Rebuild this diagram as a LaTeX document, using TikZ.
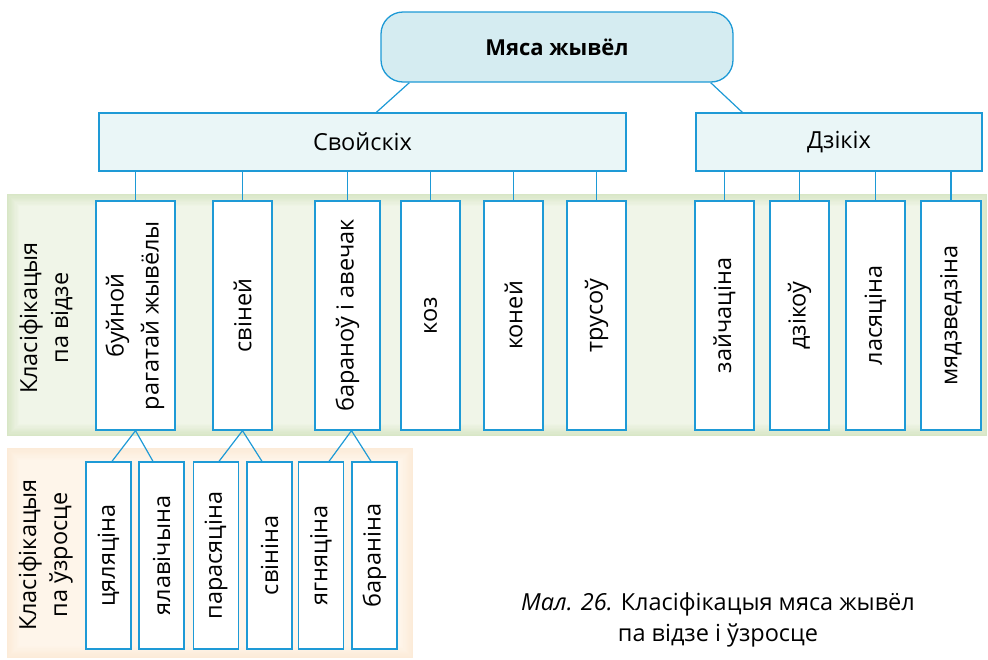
\documentclass[tikz,border=0pt]{standalone}
\usepackage{fontspec}
\setmainfont{Open Sans}
\usetikzlibrary{calc}
\definecolor{bl}{HTML}{1E9AD6}
\definecolor{topfill}{HTML}{D5ECF1}
\definecolor{midfill}{HTML}{EAF6F7}
\definecolor{gedge}{HTML}{D8E6C6}
\definecolor{gcenter}{HTML}{F0F5E8}
\definecolor{oedge}{HTML}{FCEBD8}
\definecolor{ocenter}{HTML}{FEF5EA}
\tikzset{
  box/.style={draw=bl, line width=1.3pt, inner sep=0pt, align=center},
  topbox/.style={box, fill=topfill, rounded corners=22pt, minimum width=352pt, minimum height=70pt, font=\fontsize{22}{27}\selectfont\bfseries},
  midbox/.style={box, fill=midfill, minimum height=58pt},
  vbox/.style={box, fill=white, minimum height=229pt, minimum width=#1},
  sbox/.style={box, fill=white, minimum height=187pt, minimum width=45pt},
  conn/.style={draw=bl, line width=1.2pt},
  lbl/.style={inner sep=0pt}
}
\newcommand{\vt}[1]{\rotatebox{90}{#1}}
\newcommand{\vtt}[3][3pt]{\rotatebox{90}{\begin{tabular}{@{}c@{}}#2\\[#1]#3\end{tabular}}}
\begin{document}
\begin{tikzpicture}[x=1pt,y=-1pt,font=\fontsize{23.5}{28}\selectfont]
\useasboundingbox (0,0) rectangle (988,659);
% bands
\foreach \i in {0,...,10}{
  \pgfmathtruncatemacro\p{\i*10}
  \fill[gcenter!\p!gedge] ({7+\i*1.2},{194+\i*1.2}) rectangle ({987-\i*1.2},{436-\i*1.2});
  \fill[ocenter!\p!oedge] ({7+\i*1.2},{448+\i*1.2}) rectangle ({413-\i*1.2},{658-\i*1.2});
}
% top
\node[topbox] (top) at (557,47) {Мяса жывёл};
\node[midbox, minimum width=527pt] (svo) at (362.5,142) {Свойскіх};
\node[midbox, minimum width=286pt] (dzi) at (839,142) {Дзікіх};
\draw[conn] ($(top.south west)+(29,0)$) -- ($(svo.north west)+(278,0)$);
\draw[conn] ($(top.south east)+(-23,0)$) -- ($(dzi.north west)+(47,0)$);
% vertical boxes
\node[vbox=79pt] (v1) at (135.5,315.5) {\vtt[7pt]{буйной}{рагатай жывёлы}};
\node[vbox=59pt] (v2) at (242.5,315.5) {\vt{свіней}};
\node[vbox=65pt] (v3) at (347.5,315.5) {\vt{бараноў і авечак}};
\node[vbox=59pt] (v4) at (430.5,315.5) {\vt{коз}};
\node[vbox=59pt] (v5) at (513.5,315.5) {\vt{коней}};
\node[vbox=59pt] (v6) at (596.5,315.5) {\vt{трусоў}};
\node[vbox=59pt] (w1) at (724.5,315.5) {\vt{зайчаціна}};
\node[vbox=59pt] (w2) at (799.5,315.5) {\vt{дзікоў}};
\node[vbox=59pt] (w3) at (875.5,315.5) {\vt{ласяціна}};
\node[vbox=60pt] (w4) at (951,315.5) {\vt{мядзведзіна}};
\foreach \n in {v1,v2,v3,v4,v5,v6}{\draw[conn] (\n.north) -- (\n.north |- svo.south);}
\foreach \n in {w1,w2,w3,w4}{\draw[conn] (\n.north) -- (\n.north |- dzi.south);}
% small boxes
\node[sbox] (b1) at (108.5,555.5) {\vt{цяляціна}};
\node[sbox] (b2) at (161.5,555.5) {\vt{ялавічына}};
\node[sbox] (b3) at (216,555.5) {\vt{парасяціна}};
\node[sbox] (b4) at (269.5,555.5) {\vt{свініна}};
\node[sbox] (b5) at (321,555.5) {\vt{ягняціна}};
\node[sbox] (b6) at (374.5,555.5) {\vt{бараніна}};
\draw[conn] ($(b1.north)+(3.5,0)$) -- (v1.south) -- ($(b2.north)+(-8.5,0)$);
\draw[conn] ($(b3.north)+(3,0)$) -- (v2.south) -- ($(b4.north)+(-7.5,0)$);
\draw[conn] ($(b5.north)+(8,0)$) -- ($(v3.south)+(4,0)$) -- ($(b6.north)+(-3.5,0)$);
% side labels
\node[lbl] (l1) at (47,318) {\vtt{Класіфікацыя}{па відзе}};
\node[lbl] (l2) at (46,555) {\vtt{Класіфікацыя}{па ўзросце}};
% caption
\node[lbl, align=center, font=\fontsize{23.5}{31}\selectfont] (cap) at (718,620) {\textit{Мал. 26.} Класіфікацыя мяса жывёл\\па відзе і ўзросце};
\end{tikzpicture}
\end{document}
